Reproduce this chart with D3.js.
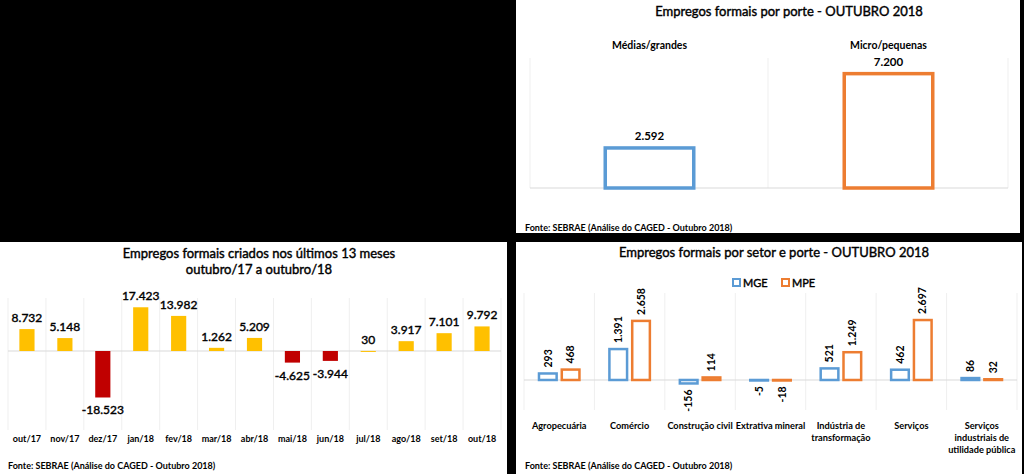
<!DOCTYPE html>
<html>
<head>
<meta charset="utf-8">
<script src="https://cdn.jsdelivr.net/npm/d3@7"></script>
<style>
  html, body { margin: 0; padding: 0; background: #000; }
  svg { display: block; font-family: Lato, "Open Sans", sans-serif; }
  text { fill: #000; }
  text.semi { stroke: #000; stroke-width: 0.4px; }
</style>
</head>
<body>
<svg id="chart" width="1024" height="474"></svg>
<script>
// ---------- DATA ----------
const sizeCats = ["Médias/grandes", "Micro/pequenas"];
const sizeValues = [2592, 7200];

const months = ["out/17","nov/17","dez/17","jan/18","fev/18","mar/18","abr/18","mai/18","jun/18","jul/18","ago/18","set/18","out/18"];
const monthValues = [8732, 5148, -18523, 17423, 13982, 1262, 5209, -4625, -3944, 30, 3917, 7101, 9792];

const sectors = ["Agropecuária", "Comércio", "Construção civil", "Extrativa mineral", "Indústria de\ntransformação", "Serviços", "Serviços\nindustriais de\nutilidade pública"];
const seriesNames = ["MGE", "MPE"];
const mgeValues = [293, 1391, -156, -5, 521, 462, 86];
const mpeValues = [468, 2658, 114, -18, 1249, 2697, 32];

const titleTop = "Empregos formais por porte - OUTUBRO 2018";
const titleLeft = ["Empregos formais criados nos últimos 13 meses", "outubro/17 a outubro/18"];
const titleRight = "Empregos formais por setor e porte - OUTUBRO 2018";
const sourceText = "Fonte: SEBRAE (Análise do CAGED - Outubro 2018)";

// ---------- SETUP ----------
const locale = d3.formatLocale({decimal: ",", thousands: ".", grouping: [3], currency: ["R$", ""], minus: "-"});
const fmt = locale.format(",d");
const BLUE = "#5B9BD5", ORANGE = "#ED7D31", YELLOW = "#FFC000", RED = "#C00000", GRID = "#D9D9D9";
const svg = d3.select("#chart");

// panels
const panels = [
  {x: 516, y: 0, w: 504, h: 233},
  {x: 0, y: 242, w: 507, h: 232},
  {x: 516, y: 242, w: 506, h: 232}
];
svg.selectAll("rect.panel").data(panels).join("rect").attr("class", "panel")
  .attr("x", d => d.x).attr("y", d => d.y).attr("width", d => d.w).attr("height", d => d.h)
  .attr("fill", "#fff");

// ---------- TOP RIGHT: by size ----------
{
  const g = svg.append("g");
  const x = d3.scaleBand().domain(sizeCats).range([530, 1008]).paddingInner(0.615).paddingOuter(0.3075);
  const y = d3.scaleLinear().domain([0, 8000]).range([188, 59]);
  g.append("text").attr("class", "semi").attr("x", 789).attr("y", 16).attr("text-anchor", "middle")
    .attr("font-size", 13).attr("font-weight", 400).text(titleTop);
  const bounds = [530, 768, 1008];
  g.selectAll("line.v").data(bounds).join("line")
    .attr("x1", d => d).attr("x2", d => d).attr("y1", 58).attr("y2", 188)
    .attr("stroke", "#EFEFEF").attr("stroke-width", 1);
  g.append("line").attr("x1", 530).attr("x2", 1008).attr("y1", y(0)).attr("y2", y(0))
    .attr("stroke", GRID).attr("stroke-width", 1.2);
  g.selectAll("text.cat").data(sizeCats).join("text").attr("class", "cat")
    .attr("x", d => x(d) + x.bandwidth() / 2).attr("y", 49).attr("text-anchor", "middle")
    .attr("font-size", 10.5).attr("font-weight", 700).text(d => d);
  const sw = 3.5;
  g.selectAll("rect.bar").data(sizeValues).join("rect").attr("class", "bar")
    .attr("x", (d, i) => x(sizeCats[i]) + sw / 2)
    .attr("y", d => y(d) + sw / 2)
    .attr("width", x.bandwidth() - sw)
    .attr("height", d => y(0) - y(d) - sw / 2)
    .attr("fill", "#fff")
    .attr("stroke", (d, i) => i === 0 ? BLUE : ORANGE).attr("stroke-width", sw);
  g.selectAll("text.val").data(sizeValues).join("text").attr("class", "val")
    .attr("x", (d, i) => x(sizeCats[i]) + x.bandwidth() / 2)
    .attr("y", d => y(d) - 6).attr("text-anchor", "middle")
    .attr("font-size", 11.5).attr("font-weight", 700).text(d => fmt(d));
  g.append("text").attr("x", 525).attr("y", 231).attr("font-size", 9).attr("font-weight", 700).text(sourceText);
}

// ---------- BOTTOM LEFT: 13 months ----------
{
  const g = svg.append("g");
  const x = d3.scaleBand().domain(months).range([8, 501]).paddingInner(0.6).paddingOuter(0.3);
  const y = d3.scaleLinear().domain([-20000, 20000]).range([401.2, 300.8]);
  g.selectAll("text.title").data(titleLeft).join("text").attr("class", "title semi")
    .attr("x", 259).attr("y", (d, i) => 258 + i * 16).attr("text-anchor", "middle")
    .attr("font-size", 13).attr("font-weight", 400).text(d => d);
  const bounds = months.map(m => x(m) - x.step() * x.paddingInner() / 2).concat([501]);
  g.selectAll("line.v").data(bounds).join("line")
    .attr("x1", d => d).attr("x2", d => d).attr("y1", 298).attr("y2", 430)
    .attr("stroke", "#EFEFEF").attr("stroke-width", 1);
  g.append("line").attr("x1", 8).attr("x2", 501).attr("y1", y(0)).attr("y2", y(0))
    .attr("stroke", GRID).attr("stroke-width", 1.2);
  g.selectAll("rect.bar").data(monthValues).join("rect").attr("class", "bar")
    .attr("x", (d, i) => x(months[i]))
    .attr("y", d => y(Math.max(0, d)))
    .attr("width", x.bandwidth())
    .attr("height", d => Math.max(1, Math.abs(y(d) - y(0))))
    .attr("fill", d => d < 0 ? RED : YELLOW);
  g.selectAll("text.val").data(monthValues).join("text").attr("class", "val semi")
    .attr("x", (d, i) => x(months[i]) + x.bandwidth() / 2)
    .attr("y", d => d < 0 ? y(d) + 17 : y(d) - 7)
    .attr("text-anchor", "middle")
    .attr("font-size", 12).attr("font-weight", 400).text(d => fmt(d));
  g.selectAll("text.cat").data(months).join("text").attr("class", "cat")
    .attr("x", d => x(d) + x.bandwidth() / 2).attr("y", 442).attr("text-anchor", "middle")
    .attr("font-size", 9).attr("font-weight", 700).text(d => d);
  g.append("text").attr("x", 8).attr("y", 469).attr("font-size", 9).attr("font-weight", 700).text(sourceText);
}

// ---------- BOTTOM RIGHT: by sector and size ----------
{
  const g = svg.append("g");
  const x0 = d3.scaleBand().domain(sectors).range([524, 1017]).paddingInner(0.39).paddingOuter(0.195);
  const x1 = d3.scaleBand().domain(seriesNames).range([0, x0.bandwidth()]).paddingInner(0.116);
  const y = d3.scaleLinear().domain([-500, 3000]).range([391.1, 313.3]);
  const color = d3.scaleOrdinal().domain(seriesNames).range([BLUE, ORANGE]);
  g.append("text").attr("class", "semi").attr("x", 774).attr("y", 257).attr("text-anchor", "middle")
    .attr("font-size", 13).attr("font-weight", 400).text(titleRight);
  const leg = g.selectAll("g.leg").data(seriesNames).join("g").attr("class", "leg")
    .attr("transform", (d, i) => `translate(${733 + i * 49},279)`);
  leg.append("rect").attr("x", 0).attr("y", 0).attr("width", 7).attr("height", 7)
    .attr("fill", "#fff").attr("stroke", d => color(d)).attr("stroke-width", 2);
  leg.append("text").attr("class", "semi").attr("x", 10).attr("y", 8).attr("font-size", 11).attr("font-weight", 400).text(d => d);
  const bounds = sectors.map(s => x0(s) - x0.step() * x0.paddingInner() / 2).concat([1017]);
  g.selectAll("line.v").data(bounds).join("line")
    .attr("x1", d => d).attr("x2", d => d).attr("y1", 293).attr("y2", 410)
    .attr("stroke", "#EFEFEF").attr("stroke-width", 1);
  g.append("line").attr("x1", 524).attr("x2", 1017).attr("y1", y(0)).attr("y2", y(0))
    .attr("stroke", GRID).attr("stroke-width", 1.2);
  const rows = [];
  sectors.forEach((s, i) => {
    rows.push({s, k: "MGE", v: mgeValues[i]});
    rows.push({s, k: "MPE", v: mpeValues[i]});
  });
  const sw = 2.5;
  g.selectAll("rect.bar").data(rows).join("rect").attr("class", "bar")
    .attr("x", d => x0(d.s) + x1(d.k) + sw / 2)
    .attr("y", d => y(Math.max(0, d.v)))
    .attr("width", x1.bandwidth() - sw)
    .attr("height", d => Math.max(0.5, Math.abs(y(d.v) - y(0))))
    .attr("fill", "#fff").attr("stroke", d => color(d.k)).attr("stroke-width", sw);
  g.selectAll("text.val").data(rows).join("text").attr("class", "val")
    .attr("transform", d => {
      const cx = x0(d.s) + x1(d.k) + x1.bandwidth() / 2;
      const yy = d.v >= 0 ? y(d.v) - 6 : y(d.v) + 6;
      return `translate(${cx},${yy}) rotate(-90)`;
    })
    .attr("dy", "0.35em")
    .attr("text-anchor", d => d.v >= 0 ? "start" : "end")
    .attr("font-size", 10.5).attr("font-weight", 700).text(d => fmt(d.v));
  const cats = g.selectAll("text.cat").data(sectors).join("text").attr("class", "cat")
    .attr("x", d => x0(d) + x0.bandwidth() / 2).attr("y", 429).attr("text-anchor", "middle")
    .attr("font-size", 9.2).attr("font-weight", 700);
  cats.selectAll("tspan").data(d => d.split("\n")).join("tspan")
    .attr("x", function() { return d3.select(this.parentNode).attr("x"); })
    .attr("dy", (d, i) => i === 0 ? 0 : 12).text(d => d);
  g.append("text").attr("x", 525).attr("y", 469).attr("font-size", 9).attr("font-weight", 700).text(sourceText);
}
</script>
</body>
</html>
